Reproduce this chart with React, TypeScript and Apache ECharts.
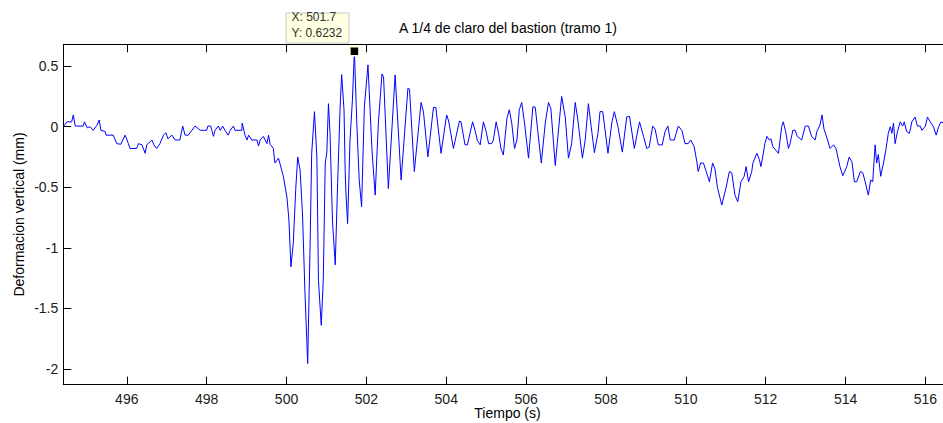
import React, { useEffect, useRef } from "react";
import * as echarts from "echarts";

// Measured signal: [time (s), vertical deflection (mm)]
const signal: [number, number][] = [
  [494.41, 0], [494.5, 0.04], [494.62, 0.04], [494.66, 0.097], [494.71, 0.005], [494.91, 0.005],
  [494.94, 0.04], [495.01, -0.01], [495.08, 0.0], [495.16, -0.03], [495.25, 0.01], [495.31, 0.055],
  [495.35, -0.03], [495.46, -0.04], [495.48, -0.07], [495.66, -0.07], [495.75, -0.14], [495.85, -0.145],
  [495.96, -0.07], [496.04, -0.14], [496.08, -0.18], [496.25, -0.18], [496.29, -0.14], [496.38, -0.15],
  [496.46, -0.22], [496.5, -0.15], [496.63, -0.11], [496.68, -0.15], [496.75, -0.18], [496.83, -0.14],
  [496.92, -0.07], [496.98, -0.05], [497.03, -0.1], [497.13, -0.07], [497.21, -0.11], [497.33, -0.11],
  [497.4, 0.005], [497.46, -0.07], [497.54, -0.07], [497.63, -0.03], [497.71, 0.005], [497.84, -0.03],
  [498.0, -0.03], [498.03, 0.005], [498.1, 0.005], [498.13, -0.03], [498.17, -0.08], [498.21, -0.03],
  [498.29, 0.005], [498.34, -0.03], [498.4, 0.005], [498.46, -0.03], [498.54, -0.07], [498.59, -0.03],
  [498.67, 0.005], [498.71, -0.03], [498.88, -0.03], [498.89, 0.03], [498.96, -0.07], [499.01, -0.11],
  [499.05, -0.07], [499.13, -0.11], [499.26, -0.11], [499.3, -0.16], [499.34, -0.11], [499.42, -0.08],
  [499.51, -0.14], [499.55, -0.07], [499.59, -0.145], [499.67, -0.18], [499.71, -0.3], [499.8, -0.26],
  [499.88, -0.36], [499.92, -0.41], [500.01, -0.58], [500.06, -0.77], [500.11, -1.157], [500.17, -0.96],
  [500.23, -0.52], [500.28, -0.25], [500.34, -0.36], [500.4, -0.72], [500.46, -1.35], [500.53, -1.955],
  [500.59, -0.99], [500.63, -0.22], [500.7, 0.124], [500.76, -0.25], [500.8, -1.27], [500.87, -1.64],
  [500.92, -1.27], [500.97, -0.3], [501.01, -0.21], [501.05, 0.19], [501.09, -0.055], [501.15, -0.77],
  [501.22, -1.14], [501.28, -0.47], [501.34, 0.14], [501.38, 0.43], [501.44, 0.14], [501.47, -0.385],
  [501.49, -0.565], [501.53, -0.8], [501.59, -0.11], [501.65, 0.22], [501.7, 0.6232], [501.76, 0.03],
  [501.82, -0.44], [501.88, -0.66], [501.95, 0.165], [502.04, 0.51], [502.14, -0.19], [502.22, -0.565],
  [502.3, 0.03], [502.39, 0.435], [502.43, 0.41], [502.55, -0.51], [502.72, 0.427], [502.87, -0.44],
  [503.04, 0.317], [503.08, 0.31], [503.2, -0.37], [503.37, 0.2], [503.43, 0.12], [503.54, -0.25],
  [503.68, 0.16], [503.74, 0.157], [503.87, -0.22], [504.01, 0.097], [504.06, 0.047], [504.18, -0.18],
  [504.33, 0.047], [504.37, 0.04], [504.47, -0.15], [504.53, -0.15], [504.66, 0.04], [504.72, -0.03],
  [504.78, -0.115], [504.85, -0.15], [504.93, 0.04], [505.0, -0.04], [505.06, -0.14], [505.14, -0.14],
  [505.18, -0.11], [505.25, 0.04], [505.31, -0.055], [505.37, -0.18], [505.43, -0.234], [505.52, 0.07],
  [505.58, 0.14], [505.64, 0.03], [505.71, -0.18], [505.77, -0.11], [505.83, 0.14], [505.89, 0.2],
  [505.96, 0.03], [506.06, -0.26], [506.17, 0.165], [506.23, 0.16], [506.29, -0.03], [506.38, -0.3],
  [506.48, 0.03], [506.56, 0.2], [506.62, 0.15], [506.73, -0.32], [506.78, -0.14], [506.89, 0.25],
  [506.98, 0.08], [507.06, -0.26], [507.14, -0.14], [507.23, 0.2], [507.29, 0.07], [507.41, -0.26],
  [507.48, -0.11], [507.56, 0.19], [507.63, 0.0], [507.71, -0.215], [507.8, -0.055], [507.85, 0.124],
  [507.92, 0.124], [508.05, -0.22], [508.15, 0.04], [508.21, 0.124], [508.3, 0.0], [508.41, -0.21],
  [508.52, 0.08], [508.59, 0.085], [508.71, -0.18], [508.84, 0.04], [508.94, -0.08], [509.02, -0.18],
  [509.08, -0.17], [509.17, 0.005], [509.23, -0.02], [509.31, -0.15], [509.41, -0.15], [509.48, -0.04],
  [509.55, 0.005], [509.61, -0.11], [509.71, -0.11], [509.81, 0.005], [509.9, -0.03], [509.98, -0.14],
  [510.06, -0.14], [510.12, -0.11], [510.21, -0.165], [510.28, -0.3], [510.31, -0.37], [510.37, -0.3],
  [510.44, -0.3], [510.51, -0.37], [510.59, -0.455], [510.67, -0.3], [510.73, -0.35], [510.79, -0.5],
  [510.9, -0.647], [511.01, -0.5], [511.09, -0.37], [511.15, -0.38], [511.23, -0.565], [511.3, -0.62],
  [511.38, -0.455], [511.46, -0.41], [511.51, -0.33], [511.57, -0.455], [511.65, -0.37], [511.68, -0.3],
  [511.78, -0.22], [511.84, -0.27], [511.88, -0.33], [511.94, -0.22], [511.98, -0.14], [512.03, -0.08],
  [512.09, -0.11], [512.13, -0.1], [512.18, -0.165], [512.32, -0.22], [512.4, 0.0], [512.44, 0.04],
  [512.5, -0.04], [512.57, -0.18], [512.61, -0.14], [512.68, -0.03], [512.74, -0.03], [512.79, -0.08],
  [512.9, -0.11], [512.99, 0.005], [513.07, 0.005], [513.15, -0.08], [513.24, -0.11], [513.28, -0.04],
  [513.36, 0.014], [513.41, 0.097], [513.46, -0.02], [513.55, -0.11], [513.61, -0.18], [513.7, -0.15],
  [513.76, -0.18], [513.86, -0.33], [513.93, -0.405], [514.03, -0.33], [514.09, -0.25], [514.16, -0.29],
  [514.22, -0.455], [514.28, -0.455], [514.37, -0.37], [514.43, -0.38], [514.49, -0.455], [514.57, -0.565],
  [514.63, -0.44], [514.68, -0.455], [514.74, -0.15], [514.78, -0.3], [514.82, -0.23], [514.88, -0.41],
  [514.95, -0.3], [515.01, -0.19], [515.07, -0.055], [515.12, 0.0], [515.16, -0.055], [515.2, 0.03],
  [515.24, -0.14], [515.3, -0.04], [515.37, 0.04], [515.43, 0.005], [515.47, 0.04], [515.53, -0.04],
  [515.6, -0.055], [515.66, 0.04], [515.74, 0.08], [515.8, 0.005], [515.87, 0.005], [515.91, -0.03],
  [516.0, 0.005], [516.05, 0.08], [516.12, 0.04], [516.2, 0.0], [516.27, -0.07], [516.33, 0.0],
  [516.39, 0.04], [516.44, 0.03],
];

const xTicks = [496, 498, 500, 502, 504, 506, 508, 510, 512, 514, 516];
const yTicks = [-2, -1.5, -1, -0.5, 0, 0.5];
const xRange = [494.41, 516.44];
const yRange = [-2.13, 0.68];
const tipPoint: [number, number] = [501.7, 0.6232];

const titleText = "A 1/4 de claro del bastion (tramo 1)";
const xLabel = "Tiempo (s)";
const yLabel = "Deformacion vertical (mm)";

const FONT = "'Liberation Sans', Arial, Helvetica, sans-serif";

export default function App() {
  const ref = useRef<HTMLDivElement>(null);

  useEffect(() => {
    if (!ref.current) return;
    const chart = echarts.init(ref.current, undefined, { renderer: "svg" });

    const axisLine = { show: true, onZero: false, lineStyle: { color: "#000", width: 1 } };
    const tickStyle = { color: "#000", width: 1 };

    chart.setOption({
      animation: false,
      backgroundColor: "#fff",
      textStyle: { fontFamily: FONT },
      grid: { left: 63.3, top: 44.3, right: 0, bottom: 38.3, containLabel: false },
      xAxis: [
        {
          type: "value",
          position: "bottom",
          min: xRange[0],
          max: xRange[1],
          axisLine,
          splitLine: { show: false },
          axisTick: { show: true, inside: true, length: 8, customValues: xTicks, lineStyle: tickStyle },
          axisLabel: {
            show: true,
            customValues: xTicks,
            margin: 7,
            fontSize: 14,
            color: "#1a1a1a",
            fontFamily: FONT,
          },
        },
        {
          type: "value",
          position: "top",
          min: xRange[0],
          max: xRange[1],
          axisLine,
          splitLine: { show: false },
          axisTick: { show: true, inside: true, length: 8, customValues: xTicks, lineStyle: tickStyle },
          axisLabel: { show: false },
        },
      ],
      yAxis: [
        {
          type: "value",
          position: "left",
          min: yRange[0],
          max: yRange[1],
          axisLine,
          splitLine: { show: false },
          axisTick: { show: true, inside: true, length: 8, customValues: yTicks, lineStyle: tickStyle },
          axisLabel: {
            show: true,
            customValues: yTicks,
            margin: 5,
            fontSize: 14,
            color: "#1a1a1a",
            fontFamily: FONT,
          },
        },
      ],
      series: [
        {
          type: "line",
          xAxisIndex: 0,
          yAxisIndex: 0,
          data: signal,
          showSymbol: false,
          symbol: "none",
          lineStyle: { color: "#0000ff", width: 1 },
          silent: true,
          z: 2,
        },
        {
          type: "scatter",
          xAxisIndex: 0,
          yAxisIndex: 0,
          data: [tipPoint],
          symbol: "rect",
          symbolSize: 9,
          itemStyle: { color: "#000", borderColor: "#ffffe1", borderWidth: 1.5, opacity: 1 },
          silent: true,
          z: 5,
        },
      ],
      graphic: [
        {
          type: "text",
          x: 508,
          y: 28,
          style: {
            text: titleText,
            fontSize: 14,
            fontFamily: FONT,
            fill: "#000",
            textAlign: "center",
            textVerticalAlign: "middle",
          },
        },
        {
          type: "text",
          x: 507.5,
          y: 413,
          style: {
            text: xLabel,
            fontSize: 14,
            fontFamily: FONT,
            fill: "#000",
            textAlign: "center",
            textVerticalAlign: "middle",
          },
        },
        {
          type: "text",
          x: 18.5,
          y: 214.5,
          rotation: Math.PI / 2,
          style: {
            text: yLabel,
            fontSize: 14,
            fontFamily: FONT,
            fill: "#000",
            textAlign: "center",
            textVerticalAlign: "middle",
          },
        },
        {
          type: "rect",
          shape: { x: 286, y: 13, width: 63, height: 30 },
          style: { fill: "#ffffe1", stroke: "#c8c8c8", lineWidth: 1 },
          z: 10,
        },
        {
          type: "text",
          x: 291.5,
          y: 17,
          z: 11,
          style: {
            text: `X: ${tipPoint[0]}`,
            fontSize: 12,
            fontFamily: FONT,
            fill: "#333",
            textAlign: "left",
            textVerticalAlign: "middle",
          },
        },
        {
          type: "text",
          x: 291.5,
          y: 32.5,
          z: 11,
          style: {
            text: `Y: ${tipPoint[1]}`,
            fontSize: 12,
            fontFamily: FONT,
            fill: "#333",
            textAlign: "left",
            textVerticalAlign: "middle",
          },
        },
      ],
    });

    return () => chart.dispose();
  }, []);

  return (
    <div
      ref={ref}
      style={{ position: "fixed", left: 0, top: 0, width: 943, height: 423, background: "#fff" }}
    />
  );
}
